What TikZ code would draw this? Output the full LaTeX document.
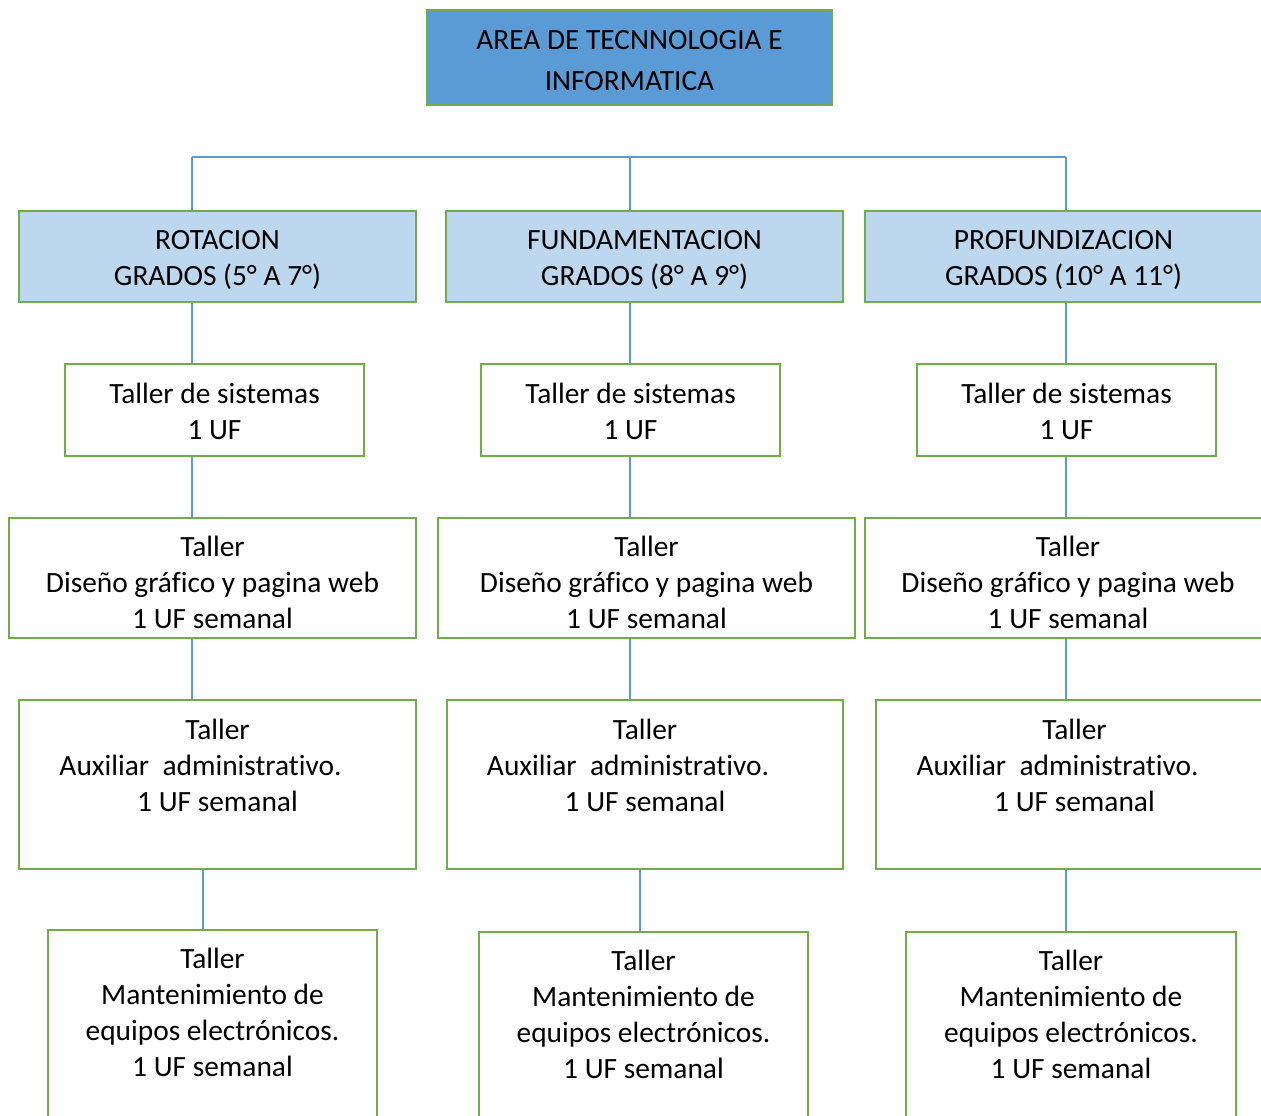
\documentclass[tikz,border=0pt]{standalone}
\usepackage{fontspec}
\setmainfont{Carlito}[Ligatures={NoCommon}]
\usetikzlibrary{backgrounds}
\definecolor{gbord}{HTML}{70AD47}
\definecolor{topfill}{HTML}{5B9BD5}
\definecolor{lvfill}{HTML}{BDD7EE}
\definecolor{conn}{HTML}{5B9BD5}
\begin{document}
\begin{tikzpicture}[x=1pt,y=-1pt,
  boxst/.style={draw=gbord,line width=2.5pt,rectangle,inner sep=0pt,fill=white},
  txt/.style={font=\fontsize{29.4}{36}\selectfont,align=center,inner sep=0pt,text=black},
  link/.style={draw=conn,line width=1.2pt}]
\useasboundingbox (0,0) rectangle (1261,1116);
\clip (0,0) rectangle (1261,1116);
% coordinates for columns
\coordinate (cA) at (192,0);
\coordinate (cB) at (630,0);
\coordinate (cC) at (1066,0);
\coordinate (bus) at (0,157);
\coordinate (cA5) at (203,0);
\coordinate (cB5) at (640,0);
% boxes
\node[boxst,fill=topfill,minimum width=405,minimum height=95] (top) at (629.5,57.5) {};
\node[boxst,fill=lvfill,minimum width=397,minimum height=91] (r1a) at (217.5,256.5) {};
\node[boxst,fill=lvfill,minimum width=397,minimum height=91] (r1b) at (644.5,256.5) {};
\node[boxst,fill=lvfill,minimum width=397,minimum height=91] (r1c) at (1063.5,256.5) {};
\node[boxst,minimum width=299,minimum height=92] (r2a) at (214.5,410) {};
\node[boxst,minimum width=299,minimum height=92] (r2b) at (630.5,410) {};
\node[boxst,minimum width=299,minimum height=92] (r2c) at (1066.5,410) {};
\node[boxst,minimum width=407,minimum height=120] (r3a) at (212.5,578) {};
\node[boxst,minimum width=417,minimum height=120] (r3b) at (646.5,578) {};
\node[boxst,minimum width=406,minimum height=120] (r3c) at (1068,578) {};
\node[boxst,minimum width=397,minimum height=169] (r4a) at (217.5,784.5) {};
\node[boxst,minimum width=396,minimum height=169] (r4b) at (645,784.5) {};
\node[boxst,minimum width=397,minimum height=169] (r4c) at (1074.5,784.5) {};
\node[boxst,minimum width=329,minimum height=200] (r5a) at (212.5,1030) {};
\node[boxst,minimum width=329,minimum height=198] (r5b) at (643.5,1031) {};
\node[boxst,minimum width=330,minimum height=198] (r5c) at (1071,1031) {};
% texts
\node[txt,font=\fontsize{29.4}{41}\selectfont] (ttop) at (629.5,61.5) {\strut AREA DE TECNNOLOGIA E\\\strut INFORMATICA};
\node[txt] (t1a) at (217.5,260) {\strut ROTACION\\\strut GRADOS (5° A 7°)};
\node[txt] (t1b) at (644.5,260) {\strut FUNDAMENTACION\\\strut GRADOS (8° A 9°)};
\node[txt] (t1c) at (1063.5,260) {\strut PROFUNDIZACION\\\strut GRADOS (10° A 11°)};
\node[txt] (t2a) at (214.5,414) {\strut Taller de sistemas\\\strut 1 UF};
\node[txt] (t2b) at (630.5,414) {\strut Taller de sistemas\\\strut 1 UF};
\node[txt] (t2c) at (1066.5,414) {\strut Taller de sistemas\\\strut 1 UF};
\node[txt] (t3a) at (212.5,585) {\strut Taller\\\strut Diseño gráfico y pagina web\\\strut 1 UF semanal};
\node[txt] (t3b) at (646.5,585) {\strut Taller\\\strut Diseño gráfico y pagina web\\\strut 1 UF semanal};
\node[txt] (t3c) at (1068,585) {\strut Taller\\\strut Diseño gráfico y pagina web\\\strut 1 UF semanal};
\node[txt] (t4a) at (217.5,768) {\strut Taller\\\strut Auxiliar\ \ administrativo.\hbox to 34pt{}\\\strut 1 UF semanal};
\node[txt] (t4b) at (645,768) {\strut Taller\\\strut Auxiliar\ \ administrativo.\hbox to 34pt{}\\\strut 1 UF semanal};
\node[txt] (t4c) at (1074.5,768) {\strut Taller\\\strut Auxiliar\ \ administrativo.\hbox to 34pt{}\\\strut 1 UF semanal};
\node[txt] (t5a) at (212.5,1015) {\strut Taller\\\strut Mantenimiento de\\\strut equipos electrónicos.\\\strut 1 UF semanal};
\node[txt] (t5b) at (643.5,1017) {\strut Taller\\\strut Mantenimiento de\\\strut equipos electrónicos.\\\strut 1 UF semanal};
\node[txt] (t5c) at (1071,1017) {\strut Taller\\\strut Mantenimiento de\\\strut equipos electrónicos.\\\strut 1 UF semanal};
% connectors
\begin{scope}[on background layer]
\draw[link] (cA |- bus) -- (cC |- bus);
\draw[link] (cA |- bus) -- (r1a.north -| cA);
\draw[link] (cB |- bus) -- (r1b.north -| cB);
\draw[link] (cC |- bus) -- (r1c.north -| cC);
\draw[link] (r1a.south -| cA) -- (r2a.north -| cA);
\draw[link] (r1b.south -| cB) -- (r2b.north -| cB);
\draw[link] (r1c.south -| cC) -- (r2c.north -| cC);
\draw[link] (r2a.south -| cA) -- (r3a.north -| cA);
\draw[link] (r2b.south -| cB) -- (r3b.north -| cB);
\draw[link] (r2c.south -| cC) -- (r3c.north -| cC);
\draw[link] (r3a.south -| cA) -- (r4a.north -| cA);
\draw[link] (r3b.south -| cB) -- (r4b.north -| cB);
\draw[link] (r3c.south -| cC) -- (r4c.north -| cC);
\draw[link] (r4a.south -| cA5) -- (r5a.north -| cA5);
\draw[link] (r4b.south -| cB5) -- (r5b.north -| cB5);
\draw[link] (r4c.south -| cC) -- (r5c.north -| cC);
\end{scope}
\end{tikzpicture}
\end{document}
